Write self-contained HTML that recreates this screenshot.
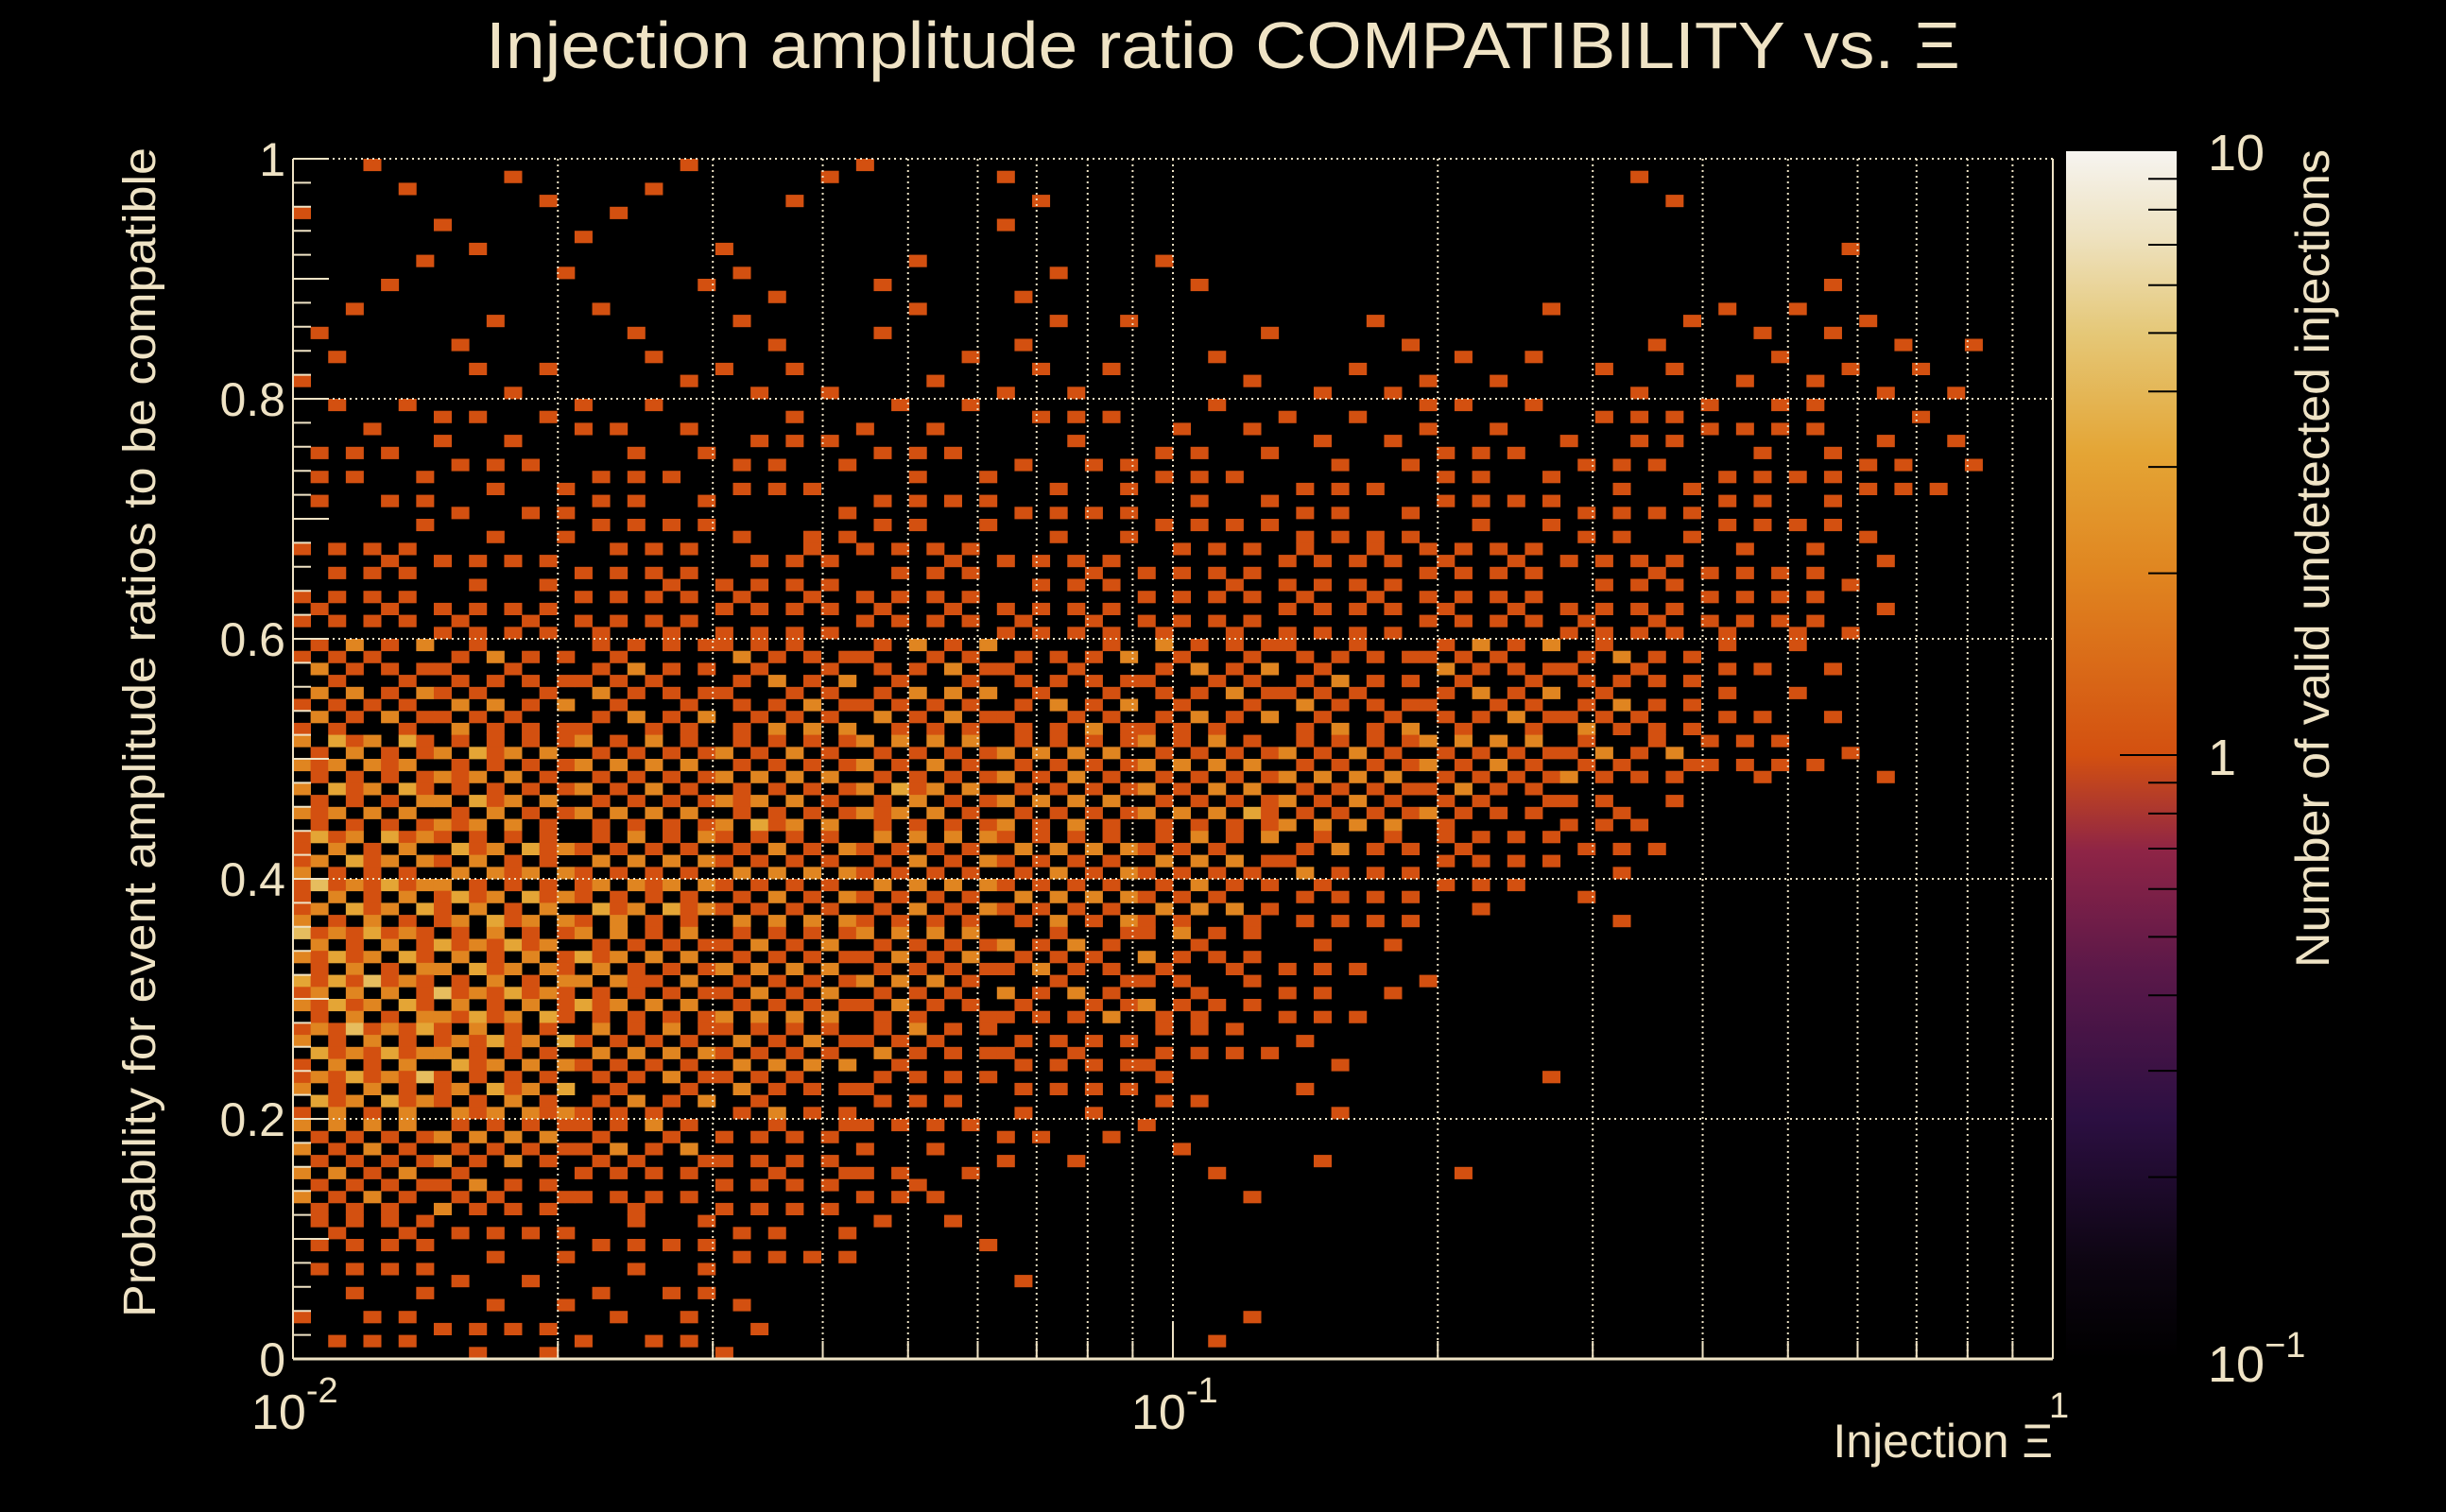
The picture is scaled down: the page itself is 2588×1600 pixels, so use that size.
<!DOCTYPE html>
<html><head><meta charset="utf-8">
<style>
html,body{margin:0;padding:0;background:#000;}
svg{display:block;}
text{font-family:"Liberation Sans",sans-serif;fill:#efe3c5;}
</style></head>
<body>
<svg id="chart" width="2588" height="1600" viewBox="0 0 2588 1600" xmlns="http://www.w3.org/2000/svg">
<defs>
<linearGradient id="cmap" x1="0" y1="1" x2="0" y2="0">
<stop offset="0" stop-color="#000000"/>
<stop offset="0.08" stop-color="#0d0512"/>
<stop offset="0.2" stop-color="#2c0f42"/>
<stop offset="0.32" stop-color="#5a1849"/>
<stop offset="0.42" stop-color="#8e2446"/>
<stop offset="0.5" stop-color="#d35010"/>
<stop offset="0.65" stop-color="#e08520"/>
<stop offset="0.75" stop-color="#e4a535"/>
<stop offset="0.85" stop-color="#e5c878"/>
<stop offset="0.93" stop-color="#eee2c0"/>
<stop offset="1" stop-color="#f6f4f0"/>
</linearGradient>
</defs>
<text x="1294" y="72" font-size="70" text-anchor="middle" textLength="1560" lengthAdjust="spacingAndGlyphs">Injection amplitude ratio COMPATIBILITY vs.  Ξ</text>
<g id="cells"></g>
<g id="grid"></g>
<g id="axes"></g>
<rect x="2186" y="160" width="117" height="1278" fill="url(#cmap)"/>
<g id="cbticks"></g>
<text x="2336" y="180" font-size="54">10</text>
<text x="2336" y="820" font-size="54">1</text>
<text x="2336" y="1462" font-size="54">10<tspan font-size="38" dy="-26">−1</tspan></text>
<text transform="translate(2464,158) rotate(-90)" font-size="50" text-anchor="end" textLength="866" lengthAdjust="spacingAndGlyphs">Number of valid undetected injections</text>
<text transform="translate(164,1394) rotate(-90)" font-size="48" textLength="1238" lengthAdjust="spacingAndGlyphs">Probability for event amplitude ratios to be compatible</text>
<text x="2172" y="1542" font-size="50" text-anchor="end">Injection Ξ</text>
</svg>
<script>
// ---- data ----
const xDomainLog = [-2, 0];
const yDomain = [0, 1];
const nBinsX = 100;
const nBinsY = 100;
const xTickLabels = ["10", "10", "1"];
const xTickExps = ["-2", "-1", ""];
const xTickValues = [0.01, 0.1, 1];
const yTickValues = [0, 0.2, 0.4, 0.6, 0.8, 1];
const yTickLabels = ["0", "0.2", "0.4", "0.6", "0.8", "1"];
const cbMinorTicks = [0.2,0.3,0.4,0.5,0.6,0.7,0.8,0.9,2,3,4,5,6,7,8,9];
const countColors = ["#000000","#d35010","#e08520","#e4a535","#e6bd5e","#ecdcb0"];
// occupancy density (0-9) of 4x4-bin blocks, row 0 = top (prob 0.96-1.0), 25 cols in log x
const densityRows = [
"0101010110100000000100000",
"1010101000100000000000100",
"0101011010101000000001000",
"1010101010110101010111110",
"1011011101110111111111110",
"1121211211121111211222110",
"2121212121122121212122210",
"1212221222222222222222100",
"2322232323232333332322100",
"3333333333333333333333100",
"4443434444344443444321000",
"5454444545444444444321000",
"6665555555555555554432100",
"6665556565555655433100000",
"7666555555555443322100000",
"7776665555555432211000000",
"7776655555444321000000000",
"8777655554444221100000000",
"7776555543333210000000000",
"7766444332222010010000000",
"5555443322211010000000000",
"5443323331000100100000000",
"3322222211000000000000000",
"2211121000100000000000000",
"1222121000000100000000000"
];
// ---- geometry ----
const X0=310, X1=2172, Y0=168, Y1=1438;
const xScale = v => X0 + (Math.log10(v) - xDomainLog[0])/(xDomainLog[1]-xDomainLog[0])*(X1-X0);
const yScale = v => Y1 - (v - yDomain[0])/(yDomain[1]-yDomain[0])*(Y1-Y0);
const NS="http://www.w3.org/2000/svg";
function mk(tag, attrs, parent){const e=document.createElementNS(NS,tag);for(const k in attrs)e.setAttribute(k,attrs[k]);parent.appendChild(e);return e;}
// ordered dither matrix (rendering only)
const bayer = (()=>{let m=[[0]];for(let s=0;s<3;s++){const n=m.length,r=[];for(let i=0;i<2*n;i++){r.push([]);for(let j=0;j<2*n;j++){const b=m[i%n][j%n]*4;const q=[0,2,3,1][(i<n?0:2)+(j<n?0:1)];r[i].push(b+q);}}m=r;}return m;})();
const cells=document.getElementById('cells');
for(let j=0;j<nBinsY;j++){
  const row=densityRows[Math.floor(j*densityRows.length/nBinsY)];
  for(let i=0;i<nBinsX;i++){
    const d=+row[Math.floor(i*row.length/nBinsX)];
    const b=bayer[(j+3*Math.floor(i/8))%8][(i+5*Math.floor(j/8))%8];
    if(b >= d*6.4) continue;
    let c=1;
    if(d>=4 && b<(d-3)*6) c=2;
    if(d>=6 && b<(d-5)*4) c=3;
    if(d>=7 && b<2) c=4;
    if(d>=8 && b<1) c=5;
    const lx0=xDomainLog[0]+i*(xDomainLog[1]-xDomainLog[0])/nBinsX;
    const lx1=xDomainLog[0]+(i+1)*(xDomainLog[1]-xDomainLog[0])/nBinsX;
    const yTop=yDomain[1]-j*(yDomain[1]-yDomain[0])/nBinsY;
    const yBot=yDomain[1]-(j+1)*(yDomain[1]-yDomain[0])/nBinsY;
    const xa=xScale(Math.pow(10,lx0)), xb=xScale(Math.pow(10,lx1));
    const ya=yScale(yTop), yb=yScale(yBot);
    const r=mk('rect',{x:xa.toFixed(2),y:ya.toFixed(2),width:(xb-xa+0.4).toFixed(2),height:(yb-ya+0.4).toFixed(2),fill:countColors[c]},cells);
    
    
  }
}
// grid lines
const grid=document.getElementById('grid');
for(let dec=-2;dec<0;dec++){
  for(let k=1;k<=9;k++){
    const v=k*Math.pow(10,dec); if(v<=0.01) continue;
    const x=xScale(v);
    const l=mk('line',{x1:x,x2:x,y1:Y0,y2:Y1,stroke:'#efe3c5','stroke-width':2,'stroke-dasharray':'2 4'},grid);
    
    
  }
}
yTickValues.forEach(v=>{ if(v===0) return;
  const y=yScale(v);
  const l=mk('line',{x1:X0,x2:X1,y1:y,y2:y,stroke:'#efe3c5','stroke-width':2,'stroke-dasharray':'2 4'},grid);
  
  
});
// axes
const axes=document.getElementById('axes');
mk('line',{x1:X0,x2:X1,y1:Y1,y2:Y1,stroke:'#efe3c5','stroke-width':3},axes);
mk('line',{x1:X0,x2:X0,y1:Y0,y2:Y1,stroke:'#efe3c5','stroke-width':2},axes);
mk('line',{x1:X1,x2:X1,y1:Y0,y2:Y1,stroke:'#efe3c5','stroke-width':2},axes);
for(let k=0;k<=50;k++){
  const y=yScale(k/50);
  mk('line',{x1:X0,x2:X0+(k%5===0?38:19),y1:y,y2:y,stroke:'#efe3c5','stroke-width':2},axes);
}
for(let dec=-2;dec<0;dec++){for(let k=1;k<=9;k++){const x=xScale(k*Math.pow(10,dec));mk('line',{x1:x,x2:x,y1:Y1,y2:Y1-(k===1?38:19),stroke:'#efe3c5','stroke-width':2},axes);}}
yTickValues.forEach((v,idx)=>{
  const t=mk('text',{x:302,y:yScale(v)+18,'font-size':50,'text-anchor':'end'},axes);
  t.textContent=yTickLabels[idx];
  
  
});
xTickValues.forEach((v,idx)=>{
  const x=xScale(v);
  const t=mk('text',{x:(idx===2?x-4:x-44),y:1512,'font-size':52},axes);
  
  
  if(idx===2){t.setAttribute('y',1500);t.setAttribute('font-size',38);t.textContent=xTickLabels[idx];return;}
  t.textContent=xTickLabels[idx];
  const s=document.createElementNS(NS,'tspan');s.setAttribute('font-size',38);s.setAttribute('dy',-28);s.textContent=xTickExps[idx];t.appendChild(s);
});
// colorbar ticks
const cbt=document.getElementById('cbticks');
const cbY=v=>1438-(Math.log10(v)+1)/2*(1438-160);
cbMinorTicks.forEach(v=>{
  const y=cbY(v);
  const l=mk('line',{x1:2273,x2:2303,y1:y,y2:y,stroke:'#000','stroke-width':2},cbt);
  
  
});
const l1=mk('line',{x1:2243,x2:2303,y1:cbY(1),y2:cbY(1),stroke:'#000','stroke-width':2},cbt);
</script>
</body></html>
